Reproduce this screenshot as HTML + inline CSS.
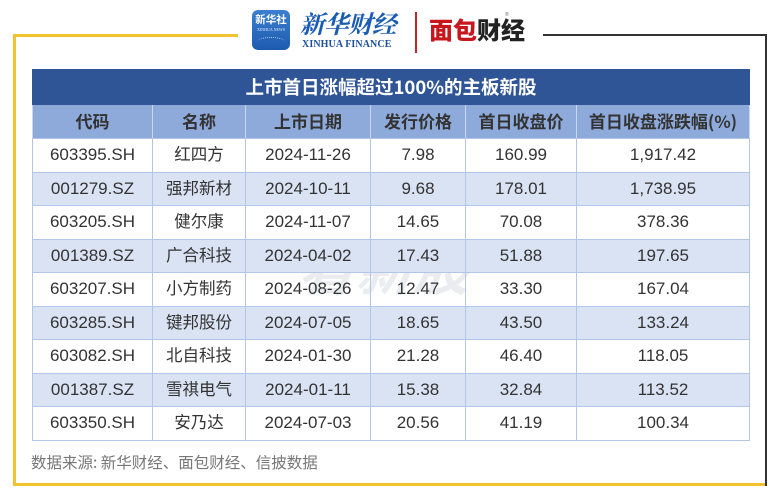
<!DOCTYPE html>
<html><head><meta charset="utf-8">
<style>
html,body{margin:0;padding:0;background:#fff;}
body{width:780px;height:500px;position:relative;overflow:hidden;font-family:"Liberation Sans","Noto Sans CJK SC",sans-serif;}
.ln{position:absolute;}
table{position:absolute;left:32px;top:69px;width:717px;border-collapse:collapse;table-layout:fixed;}
td,th{border:1px solid #b4c6e7;text-align:center;padding:0;color:#333;font-size:17px;white-space:nowrap;line-height:20px;}
tr.t th{background:#2f5597;color:#fff;font-size:18.5px;font-weight:bold;height:34px;border-color:#2f5597;font-family:"Noto Sans CJK SC","Liberation Sans",sans-serif;}
tr.h th{background:#8eaadb;color:#333;font-size:17px;font-weight:bold;height:33px;border-color:#b4c6e7 #c9d6ee;font-family:"Noto Sans CJK SC","Liberation Sans",sans-serif;}
tr.h th span{position:relative;top:-1px;}
tr.d td{height:32.5px;}
tr.d td.c{font-family:"Noto Sans CJK SC",sans-serif;font-size:16.5px;}
tr.d td.c span{position:relative;top:-2px;}
tr.a td{background:#dae3f3;}
.wm{position:absolute;left:300px;top:226px;font-size:56px;font-weight:bold;font-style:italic;color:rgba(140,150,170,0.18);letter-spacing:2px;transform:skewX(-8deg);font-family:"Noto Sans CJK SC",sans-serif;}
.foot{position:absolute;left:31px;top:451px;font-size:15.5px;color:#777;font-family:"Noto Sans CJK SC","Liberation Sans",sans-serif;line-height:22px;}
</style></head><body>
<!-- frame -->
<div class="ln" style="left:13px;top:34px;width:225px;height:3px;background:#f2c230;"></div>
<div class="ln" style="left:13px;top:34px;width:3px;height:452px;background:#f2c230;"></div>
<div class="ln" style="left:13px;top:483px;width:754px;height:3px;background:#f2c230;"></div>
<div class="ln" style="left:543px;top:34px;width:224px;height:2px;background:#333;"></div>
<div class="ln" style="left:765px;top:34px;width:2px;height:452px;background:#333;"></div>

<!-- logos -->
<div class="ln" style="left:252px;top:10px;width:38px;height:40px;border-radius:6px;background:linear-gradient(180deg,#3c7fd0,#1d5bb0);"></div>
<div class="ln" style="left:252px;top:14px;width:38px;text-align:center;color:#fff;font-size:10.5px;font-weight:bold;font-family:'Noto Sans CJK SC',sans-serif;line-height:12px;">新华社</div>
<div class="ln" style="left:252px;top:27px;width:38px;text-align:center;color:#dbe8fb;font-size:4px;line-height:5px;font-family:'Liberation Serif',serif;">XINHUA NEWS</div>
<div class="ln" style="left:257px;top:37px;width:28px;height:8px;border-top:1px dotted #bcd6f7;border-radius:50% 50% 0 0;"></div>
<div class="ln" style="left:300px;top:8px;font-size:24.5px;line-height:32px;color:#1b5cb3;font-weight:bold;font-style:italic;font-family:'Noto Serif CJK SC',serif;letter-spacing:-0.5px;">新华财经</div>
<div class="ln" style="left:302px;top:39px;font-size:10px;line-height:12px;color:#1b4f9c;font-weight:bold;font-family:'Liberation Serif',serif;letter-spacing:0.1px;">XINHUA FINANCE</div>
<div class="ln" style="left:415px;top:12px;width:2px;height:41px;background:#c9242b;"></div>
<div class="ln" style="left:429px;top:12px;font-size:24px;line-height:34px;font-weight:900;font-family:'Noto Sans CJK SC',sans-serif;letter-spacing:0px;"><span style="color:#c8161d;">面包</span><span style="color:#222;">财经</span></div>
<div class="ln" style="left:505px;top:12px;font-size:5px;color:#666;">®</div>

<div class="wm">看新股</div>

<table>
<colgroup><col style="width:120px"><col style="width:93px"><col style="width:125px"><col style="width:95px"><col style="width:111px"><col style="width:173px"></colgroup>
<tr class="t"><th colspan="6">上市首日涨幅超过100%的主板新股</th></tr>
<tr class="h"><th><span>代码</span></th><th><span>名称</span></th><th><span>上市日期</span></th><th><span>发行价格</span></th><th><span>首日收盘价</span></th><th><span>首日收盘涨跌幅(%)</span></th></tr>
<tr class="d"><td>603395.SH</td><td class="c"><span>红四方</span></td><td>2024-11-26</td><td>7.98</td><td>160.99</td><td>1,917.42</td></tr>
<tr class="d a"><td>001279.SZ</td><td class="c"><span>强邦新材</span></td><td>2024-10-11</td><td>9.68</td><td>178.01</td><td>1,738.95</td></tr>
<tr class="d"><td>603205.SH</td><td class="c"><span>健尔康</span></td><td>2024-11-07</td><td>14.65</td><td>70.08</td><td>378.36</td></tr>
<tr class="d a"><td>001389.SZ</td><td class="c"><span>广合科技</span></td><td>2024-04-02</td><td>17.43</td><td>51.88</td><td>197.65</td></tr>
<tr class="d"><td>603207.SH</td><td class="c"><span>小方制药</span></td><td>2024-08-26</td><td>12.47</td><td>33.30</td><td>167.04</td></tr>
<tr class="d a"><td>603285.SH</td><td class="c"><span>键邦股份</span></td><td>2024-07-05</td><td>18.65</td><td>43.50</td><td>133.24</td></tr>
<tr class="d"><td>603082.SH</td><td class="c"><span>北自科技</span></td><td>2024-01-30</td><td>21.28</td><td>46.40</td><td>118.05</td></tr>
<tr class="d a"><td>001387.SZ</td><td class="c"><span>雪祺电气</span></td><td>2024-01-11</td><td>15.38</td><td>32.84</td><td>113.52</td></tr>
<tr class="d"><td>603350.SH</td><td class="c"><span>安乃达</span></td><td>2024-07-03</td><td>20.56</td><td>41.19</td><td>100.34</td></tr>
</table>

<div class="foot">数据来源: 新华财经、面包财经、信披数据</div>
</body></html>
